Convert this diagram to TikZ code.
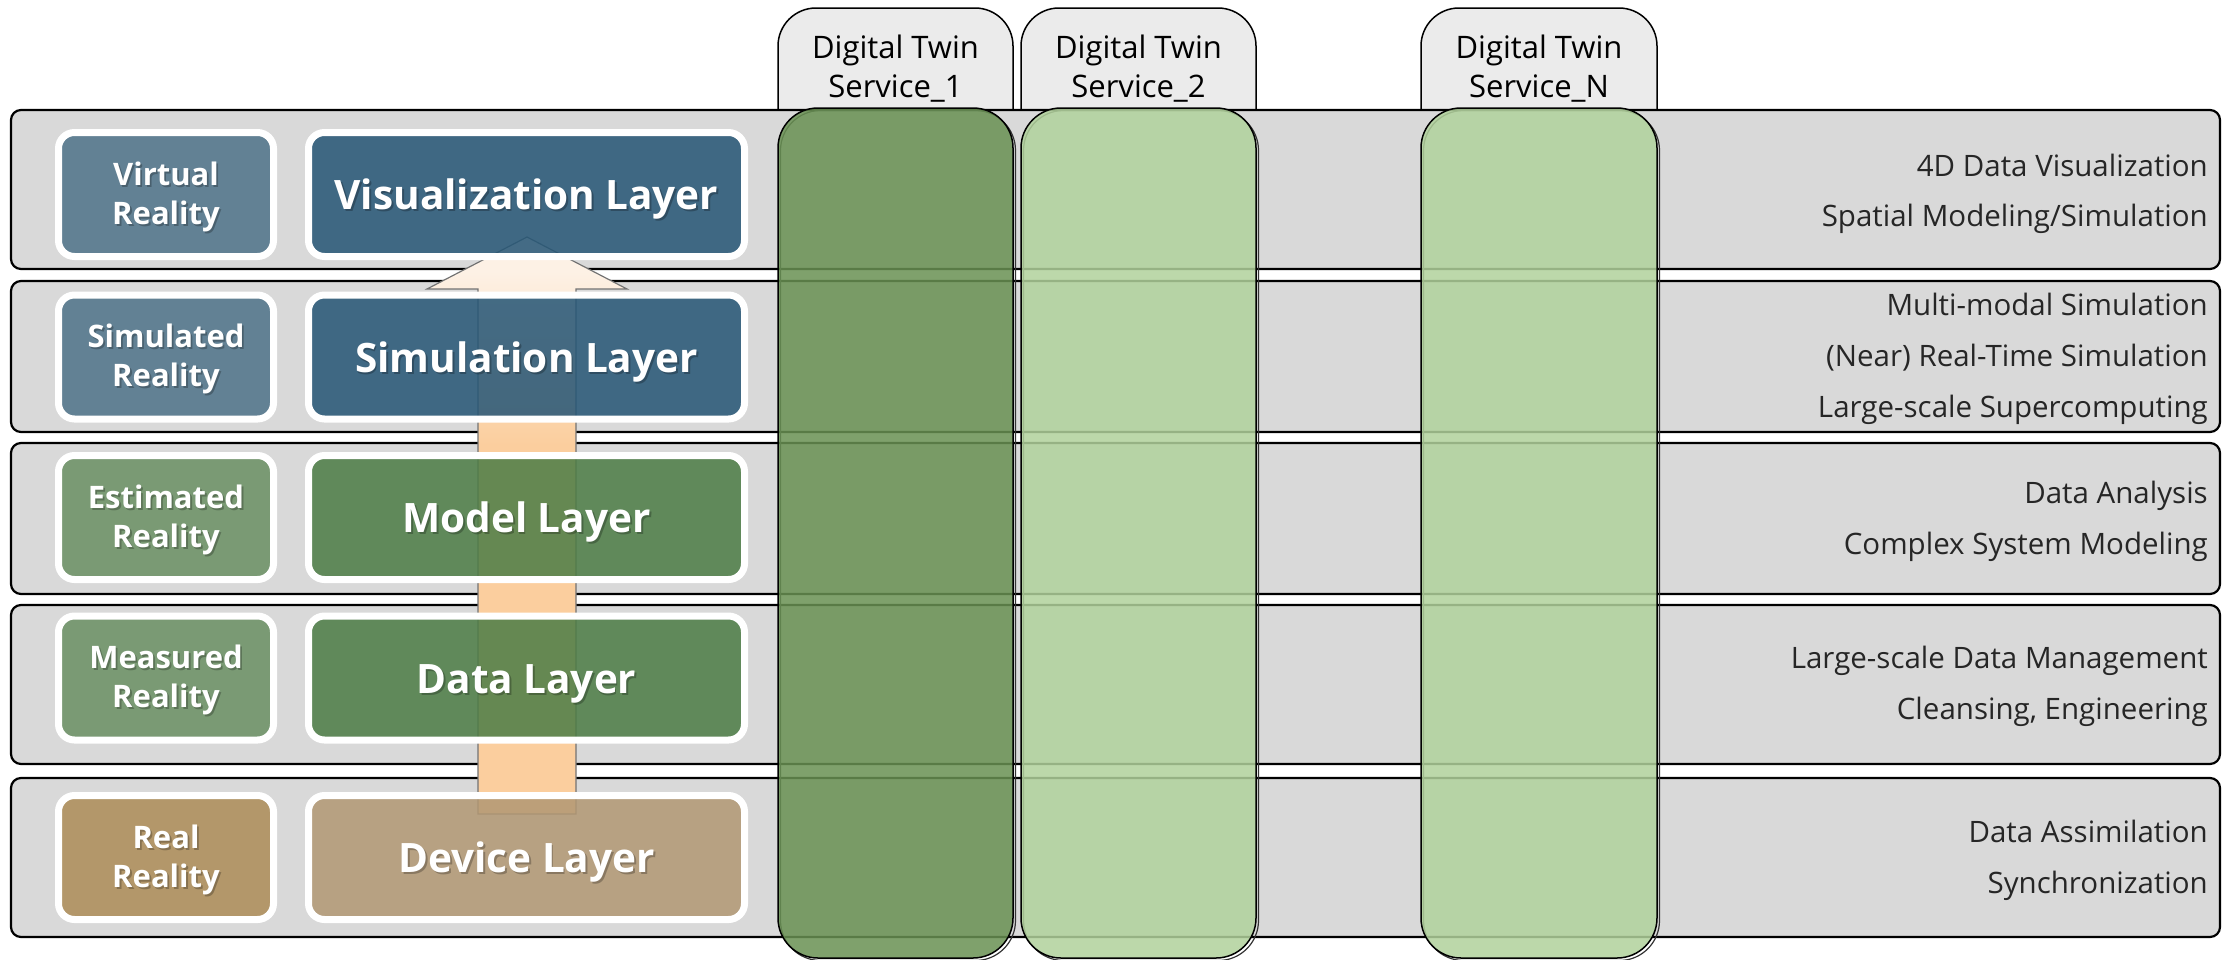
\documentclass[tikz,border=0pt]{standalone}
\usepackage{fontspec}
\setmainfont{Open Sans}
\usetikzlibrary{calc}
\definecolor{bandgray}{HTML}{D9D9D9}
\definecolor{tabgray}{HTML}{EBEBEB}
\definecolor{rblue}{HTML}{628194}
\definecolor{rgreen}{HTML}{7A9A74}
\definecolor{rbrown}{HTML}{B3976A}
\definecolor{lblue}{HTML}{265676}
\definecolor{lgreen}{HTML}{4D7D46}
\definecolor{lbrown}{HTML}{B29874}
\definecolor{colone}{HTML}{699153}
\definecolor{coltwo}{HTML}{B1D29C}
\definecolor{arrowpeach}{HTML}{FBCE9E}
\definecolor{arrowpale}{HTML}{FDF1E5}
\pgfdeclareverticalshading{arrowshade}{100bp}{color(0bp)=(arrowpeach); color(57bp)=(arrowpeach); color(72bp)=(arrowpale); color(100bp)=(arrowpale)}
\newcommand\shtext[4]{%
  \node[#1, text=black, opacity=0.25] at ($(#3)+(1.8,2)$) {#4};
  \node[#1] (#2) at (#3) {#4};}
\begin{document}
\begin{tikzpicture}[x=1pt,y=-1pt,
  bandbox/.style={draw=black, line width=2.2pt, fill=bandgray, rounded corners=10pt},
  tabbox/.style={draw=black, line width=1.5pt, fill=tabgray, rounded corners=38pt},
  colbox/.style={draw=black, line width=1.5pt, fill opacity=0.85, rounded corners=40pt},
  colshadow/.style={draw=black!80, line width=1.2pt, rounded corners=40pt},
  realbox/.style={draw=white, line width=7pt, rounded corners=16pt, minimum width=215pt, minimum height=124pt, inner sep=0pt, outer sep=0pt},
  layerbox/.style={realbox, minimum width=436pt, fill opacity=0.86},
  rtext/.style={anchor=base, text=white, font=\fontsize{31}{36}\selectfont\bfseries, inner sep=0pt},
  ltext/.style={anchor=base, text=white, font=\fontsize{40.5}{48}\selectfont\bfseries, inner sep=0pt},
  htext/.style={anchor=base, text=black, font=\fontsize{31}{36}\selectfont, inner sep=0pt},
  dtext/.style={anchor=base east, text=black!85, font=\fontsize{29.5}{36}\selectfont, inner sep=0pt},
  bigarrow/.style={draw=black!55, line width=1.2pt, shading=arrowshade}
]
\useasboundingbox (0,0) rectangle (2233,959);
\fill[white] (0,0) rectangle (2233,959);

% header tabs
\draw[tabbox] (778,8) rectangle (1013,200);
\draw[tabbox] (1021,8) rectangle (1256,200);
\draw[tabbox] (1421,8) rectangle (1657,200);
\node[htext] (h1a) at (895.5,58) {Digital Twin};
\node[htext] (h1b) at (895.5,97) {Service\_1};
\node[htext] (h2a) at (1138.5,58) {Digital Twin};
\node[htext] (h2b) at (1138.5,97) {Service\_2};
\node[htext] (hna) at (1539,58) {Digital Twin};
\node[htext] (hnb) at (1539,97) {Service\_N};

% bands
\draw[bandbox] (11,110) rectangle (2220,269);
\draw[bandbox] (11,281) rectangle (2220,432);
\draw[bandbox] (11,443) rectangle (2220,594);
\draw[bandbox] (11,605) rectangle (2220,764);
\draw[bandbox] (11,778) rectangle (2220,937);

% big arrow
\draw[bigarrow] (478,814) -- (478,289) -- (427,289) -- (527,237) -- (627,289) -- (576,289) -- (576,814) -- cycle;

% reality boxes
\node[realbox, fill=rblue]  (vr) at (166,194.5) {};
\node[realbox, fill=rblue]  (sr) at (166,357) {};
\node[realbox, fill=rgreen] (er) at (166,517.5) {};
\node[realbox, fill=rgreen] (mr) at (166,678) {};
\node[realbox, fill=rbrown] (rr) at (166,857.5) {};

% layer boxes
\node[layerbox, fill=lblue]  (vl) at (526.5,194.5) {};
\node[layerbox, fill=lblue]  (sl) at (526.5,357) {};
\node[layerbox, fill=lgreen] (ml) at (526.5,517.5) {};
\node[layerbox, fill=lgreen] (dl) at (526.5,678) {};
\node[layerbox, fill=lbrown] (devl) at (526.5,857.5) {};

% reality texts
\shtext{rtext}{vr1}{166,185}{Virtual}
\shtext{rtext}{vr2}{166,224}{Reality}
\shtext{rtext}{sr1}{166,347.5}{Simulated}
\shtext{rtext}{sr2}{166,386.5}{Reality}
\shtext{rtext}{er1}{166,508}{Estimated}
\shtext{rtext}{er2}{166,547}{Reality}
\shtext{rtext}{mr1}{166,668.5}{Measured}
\shtext{rtext}{mr2}{166,707.5}{Reality}
\shtext{rtext}{rr1}{166,848}{Real}
\shtext{rtext}{rr2}{166,887}{Reality}

% layer texts
\shtext{ltext}{vlt}{526.5,209.5}{Visualization Layer}
\shtext{ltext}{slt}{526.5,372}{Simulation Layer}
\shtext{ltext}{mlt}{526.5,532.5}{Model Layer}
\shtext{ltext}{dlt}{526.5,693}{Data Layer}
\shtext{ltext}{devlt}{526.5,872.5}{Device Layer}

% service columns
\draw[colshadow] (780.5,110.5) rectangle (1015.5,960.5);
\draw[colbox, fill=colone] (778,108) rectangle (1013,958);
\draw[colshadow] (1023.5,110.5) rectangle (1258.5,960.5);
\draw[colbox, fill=coltwo] (1021,108) rectangle (1256,958);
\draw[colshadow] (1423.5,110.5) rectangle (1659.5,960.5);
\draw[colbox, fill=coltwo] (1421,108) rectangle (1657,958);

% right descriptions
\node[dtext] (d1a) at (2208,176) {4D Data Visualization};
\node[dtext] (d1b) at (2208,226) {Spatial Modeling/Simulation};
\node[dtext] (d2a) at (2208,315) {Multi-modal Simulation};
\node[dtext] (d2b) at (2208,366) {(Near) Real-Time Simulation};
\node[dtext] (d2c) at (2208,417) {Large-scale Supercomputing};
\node[dtext] (d3a) at (2208,503) {Data Analysis};
\node[dtext] (d3b) at (2208,554) {Complex System Modeling};
\node[dtext] (d4a) at (2208,668) {Large-scale Data Management};
\node[dtext] (d4b) at (2208,719) {Cleansing, Engineering};
\node[dtext] (d5a) at (2208,842) {Data Assimilation};
\node[dtext] (d5b) at (2208,893) {Synchronization};
\end{tikzpicture}
\end{document}
